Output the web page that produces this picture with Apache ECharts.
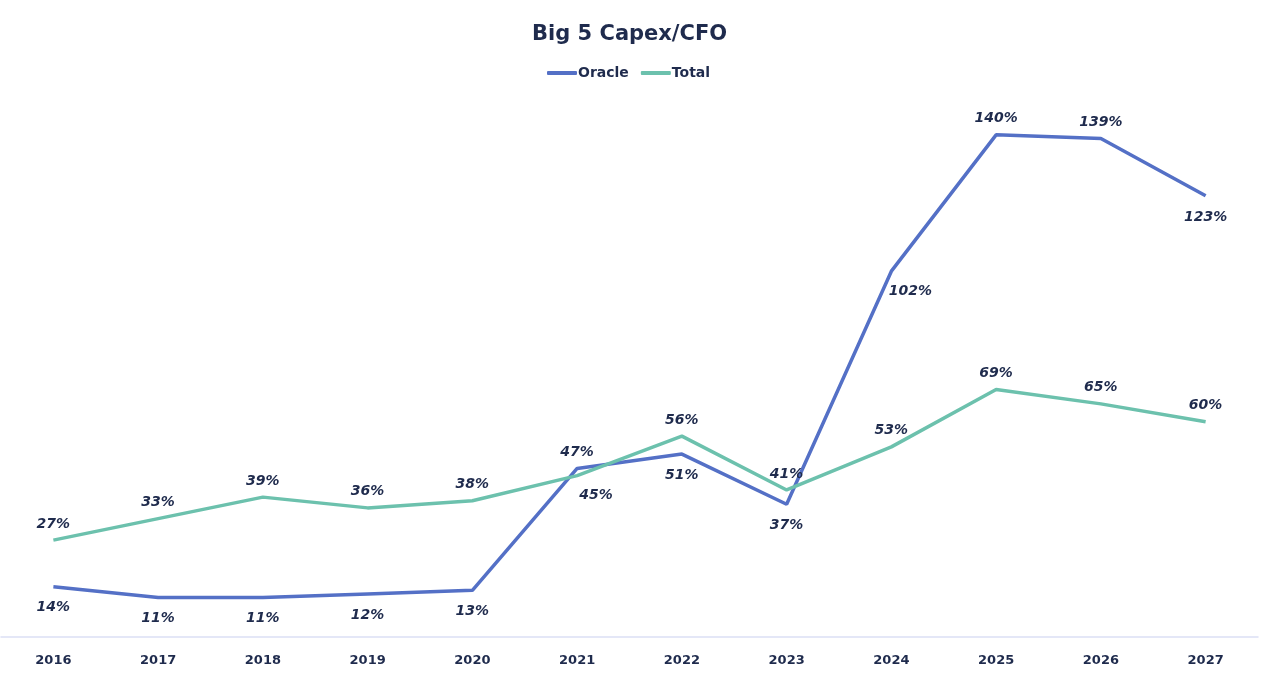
<!DOCTYPE html>
<html><head><meta charset="utf-8">
<script src="https://cdn.jsdelivr.net/npm/echarts@6/dist/echarts.min.js"></script>
<style>html,body{margin:0;padding:0;background:#fff}#c{width:1275px;height:687px}</style>
</head><body><div id="c"></div>
<script>
const years = ['2016','2017','2018','2019','2020','2021','2022','2023','2024','2025','2026','2027'];
const oracle = [14, 11, 11, 12, 13, 47, 51, 37, 102, 140, 139, 123];
const total = [27, 33, 39, 36, 38, 45, 56, 41, 53, 69, 65, 60];
// label placement per point: 't' above, 'b' below, 'br' below-right
const oracleLabelPos = ['b','b','b','b','b','t','b','b','br','t','t','b'];
const totalLabelPos = ['t','t','t','t','t','br','t','t','t','t','t','t'];

const navy = '#1f2b4d';
const font = 'DejaVu Sans';
function lbl(p){
  if (p === 't') return {position:'top', distance:9};
  if (p === 'b') return {position:'bottom', distance:14};
  return {position:'bottom', distance:13, offset:[19,0]};
}
function build(vals, pos){
  return vals.map((v,i)=>({value:v, label:lbl(pos[i])}));
}
const chart = echarts.init(document.getElementById('c'));
chart.setOption({
  animation:false,
  title:{text:'Big 5 Capex/CFO', left:527, top:19,
    textStyle:{fontFamily:font, fontSize:21, fontWeight:'bold', color:navy}},
  legend:{top:61, left:542, itemWidth:30, itemHeight:4, itemGap:12, icon:'roundRect',
    textStyle:{fontFamily:font, fontSize:14, fontWeight:'bold', color:navy, padding:[0,0,0,-4]}},
  grid:{left:1, right:17, top:99, bottom:50},
  xAxis:{type:'category', data:years, boundaryGap:true,
    axisLine:{lineStyle:{color:'#dcdff5', width:1.5}}, axisTick:{show:false},
    axisLabel:{fontFamily:font, fontSize:13, fontWeight:'bold', color:navy, margin:17}},
  yAxis:{type:'value', min:0, max:150, show:false, splitLine:{show:false}},
  series:[
    {name:'Oracle', type:'line', data:build(oracle, oracleLabelPos), showSymbol:true, symbol:'circle', symbolSize:0.1,
      lineStyle:{color:'#5470c6', width:3.5}, itemStyle:{color:'#5470c6'},
      label:{show:true, formatter:'{c}%', fontFamily:font, fontSize:14, fontWeight:'bold', fontStyle:'italic', color:navy}},
    {name:'Total', type:'line', data:build(total, totalLabelPos), showSymbol:true, symbol:'circle', symbolSize:0.1,
      lineStyle:{color:'#6cc1ad', width:3.5}, itemStyle:{color:'#6cc1ad'},
      label:{show:true, formatter:'{c}%', fontFamily:font, fontSize:14, fontWeight:'bold', fontStyle:'italic', color:navy}}
  ]
});
</script></body></html>
